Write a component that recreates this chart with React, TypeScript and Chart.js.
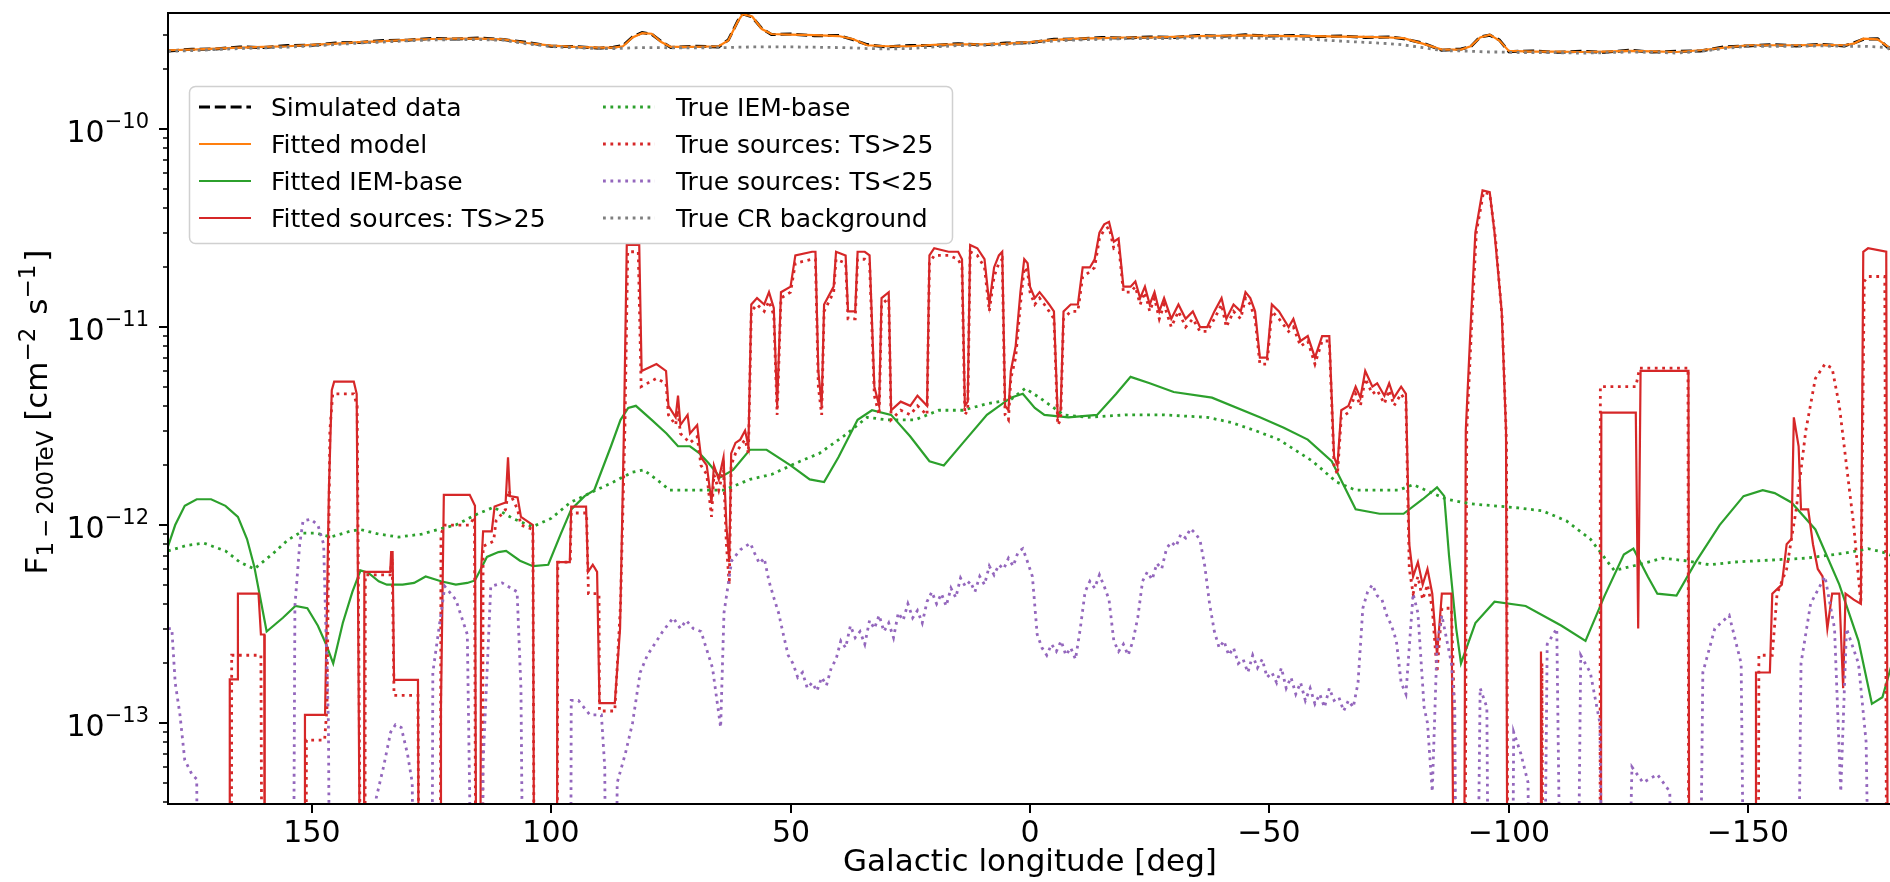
import { useEffect, useRef } from 'react';
import { Chart, registerables } from 'chart.js';

Chart.register(...registerables);

type Pt = [number, number];

// Stand-in flux for stretches where a component falls below the plotted range
const B = 1e-15;

const lonTicks = [150, 100, 50, 0, -50, -100, -150];
const fluxDecades = [-13, -12, -11, -10];

// Total counts along the plane, shared longitude grid, in units of 1e-10
const topUnit = 1e-10;
const topLon = [180, 175, 170, 165, 160, 155, 150, 145, 140, 135, 130, 125, 120, 115, 110, 105, 100, 95, 90, 87, 85, 83, 81, 79, 77, 75, 70, 65, 63, 61, 60, 58, 56, 54, 50, 45, 40, 37, 34, 30, 25, 20, 15, 10, 5, 0, -5, -10, -15, -20, -25, -30, -35, -40, -45, -50, -55, -60, -65, -70, -75, -78, -82, -86, -90, -92, -94, -96, -98, -100, -105, -110, -115, -120, -125, -130, -135, -140, -145, -150, -155, -160, -165, -170, -172, -174, -177, -179, -180];
const simulatedData = [2.48, 2.53, 2.54, 2.60, 2.58, 2.64, 2.65, 2.72, 2.74, 2.80, 2.81, 2.87, 2.85, 2.88, 2.83, 2.74, 2.62, 2.61, 2.56, 2.59, 2.64, 2.92, 3.07, 3.01, 2.77, 2.58, 2.62, 2.60, 2.82, 3.52, 3.82, 3.68, 3.22, 3.00, 3.02, 2.96, 2.97, 2.83, 2.67, 2.60, 2.64, 2.64, 2.70, 2.66, 2.72, 2.73, 2.84, 2.85, 2.90, 2.88, 2.92, 2.90, 2.97, 2.94, 2.99, 2.95, 2.97, 2.93, 2.95, 2.90, 2.92, 2.86, 2.72, 2.50, 2.54, 2.60, 2.92, 2.98, 2.82, 2.46, 2.48, 2.44, 2.47, 2.44, 2.50, 2.45, 2.47, 2.48, 2.60, 2.63, 2.67, 2.63, 2.68, 2.63, 2.72, 2.84, 2.86, 2.60, 2.52];
const fittedModel = [2.50, 2.52, 2.55, 2.58, 2.60, 2.62, 2.66, 2.70, 2.75, 2.78, 2.82, 2.85, 2.86, 2.86, 2.84, 2.72, 2.64, 2.60, 2.58, 2.58, 2.62, 2.90, 3.05, 3.03, 2.75, 2.60, 2.60, 2.62, 2.80, 3.50, 3.80, 3.70, 3.20, 3.02, 3.00, 2.98, 2.95, 2.85, 2.65, 2.62, 2.62, 2.66, 2.68, 2.68, 2.70, 2.75, 2.82, 2.86, 2.88, 2.90, 2.90, 2.92, 2.95, 2.96, 2.97, 2.96, 2.95, 2.95, 2.93, 2.92, 2.90, 2.88, 2.70, 2.52, 2.52, 2.62, 2.90, 3.00, 2.80, 2.48, 2.46, 2.46, 2.45, 2.46, 2.48, 2.47, 2.45, 2.50, 2.58, 2.65, 2.65, 2.65, 2.66, 2.65, 2.70, 2.86, 2.84, 2.62, 2.50];
const trueCR = [2.47, 2.49, 2.52, 2.55, 2.57, 2.59, 2.63, 2.67, 2.72, 2.75, 2.79, 2.82, 2.83, 2.83, 2.81, 2.69, 2.61, 2.57, 2.55, 2.55, 2.56, 2.57, 2.58, 2.58, 2.58, 2.57, 2.57, 2.58, 2.58, 2.59, 2.59, 2.60, 2.60, 2.60, 2.60, 2.59, 2.58, 2.57, 2.55, 2.54, 2.55, 2.60, 2.64, 2.65, 2.67, 2.72, 2.78, 2.82, 2.84, 2.86, 2.86, 2.87, 2.89, 2.89, 2.89, 2.87, 2.85, 2.83, 2.78, 2.74, 2.70, 2.66, 2.58, 2.49, 2.48, 2.47, 2.46, 2.45, 2.45, 2.44, 2.43, 2.43, 2.42, 2.43, 2.45, 2.44, 2.42, 2.47, 2.55, 2.62, 2.62, 2.62, 2.63, 2.62, 2.62, 2.62, 2.60, 2.58, 2.47];

// Interstellar emission, fitted and injected
const fittedIem: Pt[] = [
  [180, 7.8e-13], [178.5, 1.0e-12], [176.5, 1.25e-12], [174, 1.35e-12], [171, 1.35e-12], [168, 1.25e-12], [165.4, 1.1e-12],
  [163.5, 8.5e-13], [162, 6.2e-13], [160.5, 4.0e-13], [159.4, 2.9e-13], [156, 3.4e-13], [153.4, 3.9e-13], [150.9, 3.8e-13],
  [148.7, 3.1e-13], [147, 2.5e-13], [145.5, 2.0e-13], [143.5, 3.2e-13], [141.5, 4.6e-13], [139.8, 5.9e-13], [138.2, 5.75e-13],
  [136, 5.2e-13], [134.3, 5.0e-13], [131, 5.0e-13], [128.6, 5.1e-13], [126.2, 5.5e-13], [123, 5.2e-13], [119.9, 5.0e-13],
  [117.5, 5.1e-13], [115.9, 5.25e-13], [113.4, 6.9e-13], [111, 7.3e-13], [109.4, 7.4e-13], [106.5, 6.6e-13], [103.8, 6.2e-13],
  [100.6, 6.3e-13], [98, 9.0e-13], [95.8, 1.2e-12], [93, 1.4e-12], [91, 1.5e-12], [87.5, 2.5e-12], [85.5, 3.4e-12],
  [83.9, 3.9e-12], [82.3, 4.0e-12], [79, 3.4e-12], [75.9, 2.9e-12], [73.5, 2.5e-12], [71, 2.5e-12], [69, 2.3e-12],
  [67.1, 2.05e-12], [64.7, 1.74e-12], [62, 1.9e-12], [58.5, 2.4e-12], [55, 2.4e-12], [50, 2.0e-12], [46, 1.7e-12],
  [43, 1.65e-12], [40, 2.2e-12], [36, 3.4e-12], [33, 3.8e-12], [29, 3.6e-12], [25, 2.8e-12], [21, 2.1e-12], [18, 2.0e-12],
  [14, 2.6e-12], [9, 3.6e-12], [4, 4.4e-12], [1.5, 4.6e-12], [-1, 3.9e-12], [-3, 3.6e-12], [-8, 3.5e-12], [-14, 3.6e-12],
  [-18, 4.6e-12], [-21, 5.6e-12], [-25, 5.2e-12], [-30, 4.7e-12], [-38, 4.4e-12], [-48, 3.5e-12], [-53, 3.1e-12],
  [-58, 2.7e-12], [-63, 2.1e-12], [-68, 1.2e-12], [-73, 1.14e-12], [-78, 1.14e-12], [-82, 1.35e-12], [-85, 1.55e-12],
  [-86.5, 1.4e-12], [-87.5, 7e-13], [-89, 3e-13], [-90, 2.0e-13], [-93, 3.2e-13], [-97, 4.1e-13], [-103.5, 3.9e-13],
  [-111, 3.1e-13], [-116, 2.6e-13], [-120, 4.4e-13], [-124, 7.1e-13], [-126, 7.6e-13], [-129, 5.5e-13], [-131, 4.5e-13],
  [-135, 4.4e-13], [-139, 6.5e-13], [-144, 1.0e-12], [-149, 1.4e-12], [-153, 1.5e-12], [-155.5, 1.45e-12], [-159, 1.3e-12],
  [-164, 9.5e-13], [-169, 5.0e-13], [-173, 2.6e-13], [-175.8, 1.25e-13], [-178, 1.35e-13], [-180, 2.0e-13],
];
const trueIem: Pt[] = [
  [180, 7.4e-13], [176, 7.9e-13], [172.5, 8.1e-13], [168, 7.4e-13], [165, 6.5e-13], [162, 6.0e-13], [158, 7.2e-13],
  [155, 8.4e-13], [152.6, 9.1e-13], [149, 9.1e-13], [146, 8.7e-13], [142, 9.3e-13], [139.9, 9.5e-13], [136, 9.0e-13],
  [131.8, 8.7e-13], [127, 9.0e-13], [123, 9.6e-13], [119.9, 1.0e-12], [116, 1.12e-12], [112, 1.23e-12], [108, 1.08e-12],
  [103.9, 9.8e-13], [100, 1.08e-12], [96, 1.3e-12], [91.9, 1.45e-12], [87, 1.65e-12], [83, 1.85e-12], [80.7, 1.9e-12],
  [78, 1.7e-12], [75.2, 1.5e-12], [70, 1.5e-12], [63.9, 1.5e-12], [58.5, 1.7e-12], [54, 1.8e-12], [48, 2.1e-12],
  [44, 2.3e-12], [39, 2.8e-12], [34, 3.5e-12], [30, 3.4e-12], [24, 3.4e-12], [19, 3.8e-12], [14, 3.8e-12], [9, 4.1e-12],
  [4, 4.3e-12], [1, 4.9e-12], [-2, 4.4e-12], [-7, 3.6e-12], [-12, 3.5e-12], [-20, 3.6e-12], [-28, 3.6e-12], [-37, 3.5e-12],
  [-42, 3.3e-12], [-47, 3.0e-12], [-52, 2.7e-12], [-59, 2.1e-12], [-64, 1.65e-12], [-68, 1.5e-12], [-72, 1.5e-12],
  [-77, 1.5e-12], [-80, 1.6e-12], [-84, 1.45e-12], [-87, 1.35e-12], [-92, 1.28e-12], [-97, 1.25e-12], [-102, 1.22e-12],
  [-107, 1.18e-12], [-112, 1.05e-12], [-117, 8.5e-13], [-122, 5.9e-13], [-127, 6.3e-13], [-132, 6.8e-13], [-137, 6.6e-13],
  [-142, 6.3e-13], [-147, 6.5e-13], [-152, 6.6e-13], [-157, 6.7e-13], [-162, 6.8e-13], [-166, 7.0e-13], [-170, 7.2e-13],
  [-175, 7.6e-13], [-178, 7.3e-13], [-180, 7.0e-13],
];

// Point sources above the detection threshold, fitted and injected
const fittedSrc: Pt[] = [
  [180, B], [167.2, B], [167.1, 1.66e-13], [165.5, 1.66e-13], [165.4, 4.5e-13], [161.1, 4.5e-13], [160.6, 2.8e-13],
  [159.9, 2.8e-13], [159.8, B], [151.5, B], [151.4, 1.1e-13], [147.2, 1.1e-13], [146.4, 1.5e-12], [145.8, 4.8e-12],
  [145.3, 5.3e-12], [141.2, 5.3e-12], [140.6, 4.6e-12], [139.6, B], [139.1, B], [139.0, 5.8e-13], [133.6, 5.8e-13],
  [133.4, 7.3e-13], [133.1, 7.3e-13], [132.8, 1.65e-13], [127.8, 1.65e-13], [127.5, B], [123.1, B], [123.0, 1.2e-13],
  [122.4, 1.42e-12], [117, 1.42e-12], [115.9, 1.25e-12], [115.5, B], [114.9, B], [114.6, 6.0e-13], [114.2, 9.3e-13],
  [112.4, 9.3e-13], [111.8, 1.24e-12], [109.5, 1.3e-12], [109.0, 2.2e-12], [108.6, 1.4e-12], [107, 1.38e-12],
  [106.3, 1.1e-12], [103.8, 1.0e-12], [103.4, B], [98.8, B], [98.7, 6.5e-13], [96.1, 6.5e-13], [95.8, 1.24e-12],
  [92.7, 1.24e-12], [92.3, 5.8e-13], [91.3, 6.3e-13], [90.4, 5.8e-13], [89.9, 1.26e-13], [86.7, 1.26e-13], [85.6, 3.0e-13],
  [84.8, 3.0e-12], [84.2, 2.6e-11], [81.6, 2.6e-11], [81.1, 6.0e-12], [78, 6.5e-12], [76, 6.0e-12], [75.5, 4.0e-12],
  [74, 3.5e-12], [73.5, 4.5e-12], [73, 3.2e-12], [71.5, 3.6e-12], [71, 2.9e-12], [69.5, 3.2e-12], [68.7, 2.2e-12],
  [67.5, 2.0e-12], [66.5, 1.3e-12], [66, 2.0e-12], [65, 1.7e-12], [64, 2.2e-12], [63.4, 1.0e-12], [62.8, 6.5e-13],
  [62.4, 2.3e-12], [61.5, 2.6e-12], [60.5, 2.7e-12], [59.5, 3.0e-12], [58.8, 2.5e-12], [58.2, 1.3e-11], [57, 1.4e-11],
  [55.5, 1.3e-11], [54.5, 1.5e-11], [53.5, 1.25e-11], [52.8, 4.0e-12], [52, 1.5e-11], [50, 1.6e-11], [49, 2.3e-11],
  [45.5, 2.4e-11], [44.8, 2.4e-11], [44.2, 6.0e-12], [43.5, 4.0e-12], [43, 1.3e-11], [41, 1.6e-11], [40.5, 2.4e-11],
  [38.5, 2.3e-11], [38, 1.2e-11], [36.5, 1.2e-11], [36, 2.4e-11], [34.5, 2.4e-11], [33.5, 2.3e-11], [32.5, 5.0e-12],
  [31.5, 4.0e-12], [31, 1.4e-11], [29.5, 1.5e-11], [29, 3.8e-12], [27, 4.2e-12], [25, 4.0e-12], [23.5, 4.5e-12],
  [21.5, 4.0e-12], [21, 2.3e-11], [20, 2.5e-11], [17, 2.4e-11], [15, 2.4e-11], [14.2, 2.2e-11], [13.6, 4.0e-12],
  [13, 4.2e-12], [12.5, 2.6e-11], [11, 2.5e-11], [9.5, 2.2e-11], [8.5, 1.3e-11], [7.5, 2.0e-11], [6.5, 2.3e-11],
  [5.8, 2.4e-11], [5.2, 4.0e-12], [4.5, 3.8e-12], [4, 6.0e-12], [3, 8.0e-12], [2, 1.5e-11], [1.2, 2.2e-11], [0.5, 2.1e-11],
  [0, 1.6e-11], [-1, 1.4e-11], [-2, 1.5e-11], [-3, 1.4e-11], [-4, 1.3e-11], [-5, 1.2e-11], [-5.8, 3.5e-12], [-6.4, 3.8e-12],
  [-7, 1.2e-11], [-8.5, 1.3e-11], [-10, 1.3e-11], [-11, 2.0e-11], [-12.5, 2.0e-11], [-13.5, 2.2e-11], [-14.5, 3.0e-11],
  [-15.5, 3.3e-11], [-16.5, 3.4e-11], [-17.5, 2.7e-11], [-18.5, 2.8e-11], [-19.5, 1.6e-11], [-21, 1.6e-11], [-22, 1.7e-11],
  [-23, 1.4e-11], [-24, 1.6e-11], [-25, 1.3e-11], [-26, 1.5e-11], [-27, 1.2e-11], [-28, 1.4e-11], [-29.5, 1.1e-11],
  [-31, 1.3e-11], [-32.5, 1.1e-11], [-34, 1.2e-11], [-35.5, 1.0e-11], [-37, 1.0e-11], [-38.5, 1.2e-11], [-40, 1.4e-11],
  [-41, 1.1e-11], [-42.5, 1.3e-11], [-44, 1.2e-11], [-45, 1.5e-11], [-46, 1.4e-11], [-47, 1.2e-11], [-48, 7.0e-12],
  [-49.5, 7.0e-12], [-50.5, 1.3e-11], [-52, 1.2e-11], [-54, 1.0e-11], [-55, 1.1e-11], [-56.5, 8.5e-12], [-58, 9.0e-12],
  [-59.5, 7.0e-12], [-61, 9.0e-12], [-62.5, 9.0e-12], [-63.5, 2.2e-12], [-64.2, 2.0e-12], [-65, 3.8e-12], [-66.5, 4.0e-12],
  [-68, 5.0e-12], [-69, 4.4e-12], [-70, 6.0e-12], [-71.5, 5.0e-12], [-72.5, 5.2e-12], [-74, 4.5e-12], [-75, 5.2e-12],
  [-76, 4.4e-12], [-77.5, 5.0e-12], [-78.5, 4.6e-12], [-79.2, 8.0e-13], [-80, 5.5e-13], [-81, 6.5e-13], [-82, 5.0e-13],
  [-83, 6.0e-13], [-84, 4.5e-13], [-85, 2.2e-13], [-86, 4.5e-13], [-88, 4.5e-13], [-88.8, B], [-90.5, B], [-91, 3.0e-12],
  [-92, 1.0e-11], [-93, 3.0e-11], [-94.5, 4.9e-11], [-96, 4.8e-11], [-97, 3.0e-11], [-98.5, 1.2e-11], [-99.4, 3.0e-12],
  [-99.8, B], [-106.5, B], [-106.7, 2.3e-13], [-107.2, B], [-119.2, B], [-119.3, 3.7e-12], [-126.5, 3.7e-12],
  [-127, 3.0e-13], [-127.5, 6.0e-12], [-137.5, 6.0e-12], [-137.7, B], [-151.5, B], [-151.6, 1.8e-13], [-154.5, 1.8e-13],
  [-155, 4.5e-13], [-157, 5.0e-13], [-158, 8.0e-13], [-159, 8.5e-13], [-159.5, 3.5e-12], [-160.5, 2.5e-12], [-161, 1.2e-12],
  [-162.5, 1.2e-12], [-163.5, 8.0e-13], [-164.5, 6.0e-13], [-165.5, 5.5e-13], [-166.5, 3.0e-13], [-167.5, 4.5e-13],
  [-169, 4.5e-13], [-169.8, 1.5e-13], [-170.3, 4.5e-13], [-172, 4.2e-13], [-173.5, 4.0e-13], [-174, 2.4e-11],
  [-175, 2.5e-11], [-178.8, 2.4e-11], [-179.2, B], [-180, B],
];
const trueSrc: Pt[] = [
  [180, B], [166.8, B], [166.7, 2.2e-13], [160.6, 2.2e-13], [160.2, B], [151.2, B], [151.1, 8.2e-14], [147.3, 8.2e-14],
  [146.8, 1.2e-13], [146.2, 3.0e-12], [145.6, 4.6e-12], [141.2, 4.6e-12], [140.5, 4.0e-12], [139.5, B], [138.9, B],
  [138.8, 5.6e-13], [133.6, 5.6e-13], [133.2, 6.8e-13], [132.8, 1.38e-13], [127.8, 1.38e-13], [127.4, B], [123.2, B],
  [123.0, 9.0e-13], [122.2, 1.0e-12], [117, 1.0e-12], [116, 1.1e-12], [115.6, B], [114.4, B], [114.2, 7.8e-13],
  [112, 8.3e-13], [111.5, 1.05e-12], [109.5, 1.2e-12], [108.9, 1.5e-12], [107, 1.2e-12], [106.3, 1.0e-12], [103.8, 9.5e-13],
  [103.4, B], [98.8, B], [98.6, 6.5e-13], [96, 6.5e-13], [95.8, 1.15e-12], [92.6, 1.15e-12], [92.2, 4.5e-13], [90, 4.5e-13],
  [89.9, 1.15e-13], [86.7, 1.15e-13], [85.5, 4.0e-13], [84.6, 3.0e-12], [84.0, 2.4e-11], [81.8, 2.4e-11], [81.2, 5.0e-12],
  [78, 5.5e-12], [76, 5.2e-12], [75.5, 3.6e-12], [74, 3.2e-12], [73.5, 3.8e-12], [73, 2.9e-12], [71, 2.6e-12], [69.5, 2.8e-12],
  [68.7, 2.0e-12], [67.5, 1.8e-12], [66.5, 1.1e-12], [66, 1.8e-12], [65, 1.5e-12], [64, 1.9e-12], [63.4, 8.0e-13],
  [62.8, 5.0e-13], [62.4, 2.0e-12], [61.5, 2.3e-12], [60.5, 2.5e-12], [59.5, 2.7e-12], [58.8, 2.3e-12], [58.2, 1.2e-11],
  [57, 1.3e-11], [55.5, 1.2e-11], [54.5, 1.35e-11], [53.5, 1.15e-11], [52.8, 3.6e-12], [52, 1.4e-11], [50, 1.5e-11],
  [49, 2.1e-11], [45.5, 2.2e-11], [44.8, 2.2e-11], [44.2, 5.0e-12], [43.5, 3.6e-12], [43, 1.2e-11], [41, 1.5e-11],
  [40.5, 2.2e-11], [38.5, 2.1e-11], [38, 1.1e-11], [36.5, 1.1e-11], [36, 2.2e-11], [34.5, 2.2e-11], [33.5, 2.1e-11],
  [32.5, 4.5e-12], [31.5, 3.6e-12], [31, 1.3e-11], [29.5, 1.4e-11], [29, 3.4e-12], [27, 3.8e-12], [25, 3.6e-12],
  [23.5, 4.0e-12], [21.5, 3.6e-12], [21, 2.1e-11], [20, 2.3e-11], [17, 2.3e-11], [15, 2.2e-11], [14.2, 2.0e-11],
  [13.6, 3.6e-12], [13, 3.8e-12], [12.5, 2.4e-11], [11, 2.3e-11], [9.5, 2.0e-11], [8.5, 1.2e-11], [7.5, 1.8e-11],
  [6.5, 2.1e-11], [5.8, 2.2e-11], [5.2, 3.6e-12], [4.5, 3.4e-12], [4, 5.5e-12], [3, 7.0e-12], [2, 1.3e-11], [1.2, 2.0e-11],
  [0.5, 1.9e-11], [0, 1.5e-11], [-1, 1.3e-11], [-2, 1.4e-11], [-3, 1.3e-11], [-4, 1.2e-11], [-5, 1.1e-11], [-5.8, 3.2e-12],
  [-6.4, 3.4e-12], [-7, 1.1e-11], [-8.5, 1.2e-11], [-10, 1.2e-11], [-11, 1.8e-11], [-12.5, 1.9e-11], [-13.5, 2.0e-11],
  [-14.5, 2.8e-11], [-15.5, 3.1e-11], [-16.5, 3.2e-11], [-17.5, 2.5e-11], [-18.5, 2.6e-11], [-19.5, 1.5e-11], [-21, 1.5e-11],
  [-22, 1.6e-11], [-23, 1.3e-11], [-24, 1.5e-11], [-25, 1.2e-11], [-26, 1.4e-11], [-27, 1.1e-11], [-28, 1.3e-11],
  [-29.5, 1.0e-11], [-31, 1.2e-11], [-32.5, 1.0e-11], [-34, 1.1e-11], [-35.5, 9.5e-12], [-37, 9.5e-12], [-38.5, 1.1e-11],
  [-40, 1.3e-11], [-41, 1.0e-11], [-42.5, 1.2e-11], [-44, 1.1e-11], [-45, 1.4e-11], [-46, 1.3e-11], [-47, 1.1e-11],
  [-48, 6.5e-12], [-49.5, 6.5e-12], [-50.5, 1.2e-11], [-52, 1.1e-11], [-54, 9.5e-12], [-55, 1.0e-11], [-56.5, 8.0e-12],
  [-58, 8.5e-12], [-59.5, 6.5e-12], [-61, 8.5e-12], [-62.5, 8.5e-12], [-63.5, 2.0e-12], [-64.2, 1.8e-12], [-65, 3.5e-12],
  [-66.5, 3.7e-12], [-68, 4.6e-12], [-69, 4.0e-12], [-70, 5.5e-12], [-71.5, 4.6e-12], [-72.5, 4.8e-12], [-74, 4.1e-12],
  [-75, 4.8e-12], [-76, 4.0e-12], [-77.5, 4.6e-12], [-78.5, 4.2e-12], [-79.2, 6.0e-13], [-80, 4.5e-13], [-81, 5.5e-13],
  [-82, 4.2e-13], [-83, 5.0e-13], [-84, 3.8e-13], [-85, 1.8e-13], [-86, 3.8e-13], [-88, 3.8e-13], [-88.6, 1.2e-13],
  [-88.9, B], [-90.7, B], [-91.2, 3.0e-12], [-92.2, 1.0e-11], [-93.2, 3.0e-11], [-94.7, 4.8e-11], [-96, 4.7e-11],
  [-97.2, 2.8e-11], [-98.6, 1.1e-11], [-99.5, 2.6e-12], [-99.9, B], [-106.5, B], [-106.9, 2.0e-13], [-107.3, B], [-119, B],
  [-119.1, 5.0e-12], [-126.5, 5.0e-12], [-127.3, 6.2e-12], [-137.4, 6.2e-12], [-137.6, B], [-152, B], [-152.2, 2.2e-13],
  [-155, 2.2e-13], [-156, 4.5e-13], [-158, 6.0e-13], [-160, 1.2e-12], [-162, 3.0e-12], [-164, 5.5e-12], [-166, 6.5e-12],
  [-167.5, 6.2e-12], [-169, 4.0e-12], [-170.5, 2.0e-12], [-172, 1.0e-12], [-173.5, 4.0e-13], [-174.2, 1.7e-11],
  [-175, 1.8e-11], [-178.5, 1.8e-11], [-179, B], [-180, B],
];

// Point sources below the detection threshold (injected only)
const trueFaint: Pt[] = [
  [180, 3.0e-13], [179.2, 3.0e-13], [178.5, 1.6e-13], [177.5, 1.1e-13], [176.5, 6.5e-14], [175, 5.5e-14], [174, 5.2e-14],
  [173.6, B], [154, B], [153.5, 3.9e-13], [152.5, 8.0e-13], [151.8, 1.05e-12], [150.2, 1.07e-12], [148.7, 1.0e-12],
  [147.5, 8.0e-13], [146.5, 1.0e-13], [146, B], [137, B], [136.5, 4.2e-14], [135, 6.0e-14], [133.5, 9.0e-14],
  [132.5, 9.8e-14], [131.3, 9.5e-14], [130, 7.0e-14], [129, 5.0e-14], [128.3, B], [125, B], [124.7, 1.8e-13],
  [122.2, 4.9e-13], [119.9, 4.2e-13], [117.5, 2.8e-13], [116, B], [114.5, B], [114.2, 6.3e-14], [112.6, 4.9e-13],
  [110.2, 5.1e-13], [107.1, 4.6e-13], [106.3, 1.5e-13], [105.5, B], [96, B], [95.8, 1.3e-13], [94.3, 1.3e-13],
  [91.9, 1.1e-13], [89.5, 1.1e-13], [88.8, 6.0e-14], [88.3, B], [86.8, B], [86.2, 5.0e-14], [84.5, 7.0e-14],
  [83, 1.0e-13], [81.4, 1.8e-13], [79.9, 2.2e-13], [76.7, 2.9e-13], [74.5, 3.4e-13], [73, 3.0e-13], [71.8, 3.3e-13],
  [70.3, 3.0e-13], [68.7, 2.9e-13], [66.3, 1.9e-13], [64.6, 9.5e-14], [63.9, 3.6e-13], [62.3, 6.6e-13], [60.5, 7.5e-13],
  [58.4, 8.1e-13], [57.5, 7.2e-13], [56.5, 6.4e-13], [55.5, 6.8e-13], [54.5, 5.2e-13], [53.5, 4.3e-13], [52.5, 3.6e-13],
  [51.5, 2.8e-13], [50.5, 2.2e-13], [49.5, 2.0e-13], [48.5, 1.7e-13], [47.5, 1.8e-13], [46.5, 1.5e-13], [45.5, 1.6e-13],
  [44.5, 1.45e-13], [43.5, 1.7e-13], [42.5, 1.55e-13], [41.5, 1.9e-13], [40.5, 2.1e-13], [39.5, 2.6e-13], [38.5, 2.4e-13],
  [37.5, 3.1e-13], [36.5, 2.7e-13], [35.5, 2.9e-13], [34.5, 2.5e-13], [33.5, 3.3e-13], [32.5, 3.0e-13], [31.5, 3.5e-13],
  [30.5, 2.9e-13], [29.5, 3.2e-13], [28.5, 2.7e-13], [27.5, 3.6e-13], [26.5, 3.3e-13], [25.5, 4.0e-13], [24.5, 3.4e-13],
  [23.5, 3.7e-13], [22.5, 3.2e-13], [21.5, 4.1e-13], [20.5, 4.6e-13], [19.5, 4.0e-13], [18.5, 4.5e-13], [17.5, 3.9e-13],
  [16.5, 4.8e-13], [15.5, 4.3e-13], [14.5, 5.4e-13], [13.5, 4.9e-13], [12.5, 5.2e-13], [11.5, 4.6e-13], [10.5, 5.5e-13],
  [9.5, 5.0e-13], [8.5, 6.2e-13], [7.5, 5.6e-13], [6.5, 6.3e-13], [5.5, 6.0e-13], [4.5, 6.8e-13], [3.5, 6.2e-13],
  [2.5, 7.3e-13], [1.5, 7.6e-13], [0.5, 6.5e-13], [-0.5, 5.5e-13], [-1.5, 2.8e-13], [-2.5, 2.4e-13], [-3.5, 2.2e-13],
  [-4.5, 2.5e-13], [-5.5, 2.3e-13], [-6.5, 2.6e-13], [-7.5, 2.2e-13], [-8.5, 2.4e-13], [-9.5, 2.1e-13], [-10.5, 3.0e-13],
  [-11.5, 4.6e-13], [-12.5, 5.2e-13], [-13.5, 4.8e-13], [-14.5, 5.6e-13], [-15.5, 4.9e-13], [-16.5, 4.2e-13],
  [-17.5, 2.6e-13], [-18.5, 2.3e-13], [-19.5, 2.5e-13], [-20.5, 2.2e-13], [-21.5, 2.6e-13], [-22.5, 3.4e-13],
  [-23.5, 5.2e-13], [-24.5, 5.8e-13], [-25.5, 5.3e-13], [-26.5, 6.4e-13], [-27.5, 6.0e-13], [-28.5, 7.6e-13],
  [-29.5, 8.2e-13], [-30.5, 7.8e-13], [-31.5, 9.0e-13], [-32.5, 8.6e-13], [-33.5, 9.6e-13], [-34.5, 9.1e-13],
  [-35.5, 8.4e-13], [-36.5, 6.2e-13], [-37.5, 4.0e-13], [-38.5, 2.9e-13], [-39.5, 2.4e-13], [-40.5, 2.6e-13],
  [-41.5, 2.2e-13], [-42.5, 2.4e-13], [-43.5, 2.0e-13], [-44.5, 2.1e-13], [-45.5, 1.8e-13], [-46.5, 2.2e-13],
  [-47.5, 1.9e-13], [-48.5, 2.1e-13], [-49.5, 1.7e-13], [-50.5, 1.8e-13], [-51.5, 1.6e-13], [-52.5, 1.9e-13],
  [-53.5, 1.5e-13], [-54.5, 1.7e-13], [-55.5, 1.4e-13], [-56.5, 1.6e-13], [-57.5, 1.3e-13], [-58.5, 1.5e-13],
  [-59.5, 1.25e-13], [-60.5, 1.4e-13], [-61.5, 1.2e-13], [-62.5, 1.5e-13], [-63.5, 1.3e-13], [-64.5, 1.35e-13],
  [-65.5, 1.15e-13], [-66.5, 1.3e-13], [-67.5, 1.2e-13], [-68.5, 1.6e-13], [-69.5, 3.8e-13], [-70.5, 4.6e-13],
  [-71.5, 5.0e-13], [-72.5, 4.4e-13], [-73.5, 4.2e-13], [-74.5, 3.5e-13], [-75.5, 3.1e-13], [-76.5, 2.6e-13],
  [-77.5, 1.6e-13], [-78.5, 1.4e-13], [-80, 4.5e-13], [-81, 3.6e-13], [-82.3, 1.2e-13], [-83, 1.0e-13], [-84, 4.5e-14],
  [-85, 2.5e-13], [-86, 3.5e-13], [-88, 2.0e-13], [-88.7, 1.2e-13], [-89.3, B], [-93, B], [-94, 1.5e-13],
  [-95.4, 1.2e-13], [-96, B], [-100.5, B], [-101, 9.0e-14], [-102.5, 7.0e-14], [-104, 5.0e-14], [-104.6, B], [-107, B],
  [-108, 2.5e-13], [-110, 3.0e-13], [-111.3, B], [-114, B], [-115, 2.2e-13], [-117, 1.8e-13], [-119, 1.0e-13], [-120, B],
  [-124, B], [-125.7, 6.0e-14], [-128, 5.0e-14], [-131, 5.5e-14], [-133.6, 4.5e-14], [-134.5, B], [-139.5, B],
  [-140.5, 1.8e-13], [-143, 3.0e-13], [-146, 3.5e-13], [-148.5, 2.0e-13], [-149.5, B], [-160, B], [-161, 2.0e-13],
  [-163, 4.0e-13], [-166, 5.5e-13], [-168, 3.0e-13], [-169.3, 4.5e-14], [-170.5, 3.0e-13], [-173, 2.0e-13],
  [-174.6, 8.0e-14], [-175.8, B], [-180, B],
];

const toXY = (pts: Pt[]) => pts.map(([x, y]) => ({ x, y }));
const topXY = (vals: number[]) => topLon.map((x, i) => ({ x, y: vals[i] * topUnit }));

const W = 1900;
const H = 882;
const AREA = { left: 168, top: 13, right: 1892, bottom: 804 };
const FONT = '"DejaVu Sans", sans-serif';

const MINUS = '\u2212';
const fmtLon = (v: number) => (v < 0 ? MINUS + Math.abs(v) : String(v));

type Run = { t: string; size: number; dy: number; gap?: number };

function drawRich(ctx: CanvasRenderingContext2D, parts: Run[], x0: number, y0: number) {
  let x = x0;
  for (const p of parts) {
    ctx.font = `${p.size}px ${FONT}`;
    ctx.fillText(p.t, x, y0 + p.dy);
    x += ctx.measureText(p.t).width + (p.gap || 0);
  }
}
function richWidth(ctx: CanvasRenderingContext2D, parts: Run[]) {
  let w = 0;
  for (const p of parts) {
    ctx.font = `${p.size}px ${FONT}`;
    w += ctx.measureText(p.t).width + (p.gap || 0);
  }
  return w;
}

const decorPlugin = {
  id: 'decor',
  afterDatasetsDraw(chart: any) {
    const { ctx, chartArea: a, scales } = chart;
    const xs = scales.x;
    const ys = scales.y;
    ctx.save();
    ctx.fillStyle = '#000';
    ctx.strokeStyle = '#000';

    // legend
    const lg = { left: 189.5, top: 86.5, w: 763, h: 157 };
    ctx.beginPath();
    ctx.roundRect(lg.left, lg.top, lg.w, lg.h, 6);
    ctx.fillStyle = 'rgba(255,255,255,0.8)';
    ctx.fill();
    ctx.lineWidth = 1.5;
    ctx.strokeStyle = '#d0d0d0';
    ctx.stroke();
    const rows = [107, 144, 181, 218];
    const cols = [{ line: 199, text: 271 }, { line: 603, text: 676 }];
    chart.data.datasets.forEach((ds: any, i: number) => {
      const c = cols[Math.floor(i / 4)];
      const ry = rows[i % 4];
      ctx.save();
      ctx.beginPath();
      ctx.setLineDash(ds.borderDash || []);
      ctx.lineWidth = ds.borderWidth;
      ctx.strokeStyle = ds.borderColor;
      ctx.moveTo(c.line, ry);
      ctx.lineTo(c.line + 52, ry);
      ctx.stroke();
      ctx.restore();
      ctx.fillStyle = '#000';
      ctx.font = `25px ${FONT}`;
      ctx.textAlign = 'left';
      ctx.textBaseline = 'alphabetic';
      ctx.fillText(ds.label, c.text, ry + 9);
    });

    // spines
    ctx.setLineDash([]);
    ctx.strokeStyle = '#000';
    ctx.lineWidth = 2;
    ctx.strokeRect(a.left, a.top, a.right - a.left, a.bottom - a.top);

    // x ticks and labels
    ctx.lineWidth = 2;
    ctx.font = `30px ${FONT}`;
    ctx.textAlign = 'center';
    ctx.textBaseline = 'alphabetic';
    for (const v of lonTicks) {
      const px = Math.round(xs.getPixelForValue(v));
      ctx.beginPath();
      ctx.moveTo(px, a.bottom);
      ctx.lineTo(px, a.bottom + 9);
      ctx.stroke();
      ctx.fillText(fmtLon(v), px, 842);
    }

    // y ticks (major and minor) and labels
    for (let d = -14; d <= -10; d++) {
      for (let m = 1; m <= 9; m++) {
        const val = m * Math.pow(10, d);
        if (val < ys.min || val > ys.max) continue;
        const py = Math.round(ys.getPixelForValue(val));
        const len = m === 1 ? 9 : 5;
        ctx.lineWidth = m === 1 ? 2 : 1.5;
        ctx.beginPath();
        ctx.moveTo(a.left - len, py);
        ctx.lineTo(a.left, py);
        ctx.stroke();
      }
    }
    ctx.textAlign = 'left';
    for (const d of fluxDecades) {
      const py = ys.getPixelForValue(Math.pow(10, d));
      const parts: Run[] = [
        { t: '10', size: 30, dy: 13 },
        { t: MINUS + Math.abs(d), size: 21, dy: -1 },
      ];
      const w = richWidth(ctx, parts);
      drawRich(ctx, parts, 149 - w, py);
    }

    // axis titles
    ctx.font = `31px ${FONT}`;
    ctx.textAlign = 'center';
    ctx.fillText('Galactic longitude [deg]', (a.left + a.right) / 2, 871);

    const yParts: Run[] = [
      { t: 'F', size: 31, dy: 0 },
      { t: '1', size: 23, dy: 6, gap: 4 },
      { t: MINUS, size: 23, dy: 6, gap: 4 },
      { t: '200TeV', size: 23, dy: 6 },
      { t: ' [cm', size: 31, dy: 0 },
      { t: MINUS + '2', size: 23, dy: -12, gap: 3 },
      { t: ' s', size: 31, dy: 0 },
      { t: MINUS + '1', size: 23, dy: -12, gap: 3 },
      { t: ']', size: 31, dy: 0 },
    ];
    ctx.textAlign = 'left';
    ctx.translate(36, 412);
    ctx.rotate(-Math.PI / 2);
    const yw = richWidth(ctx, yParts);
    drawRich(ctx, yParts, -yw / 2, 11);
    ctx.restore();
  },
};

export default function App() {
  const ref = useRef<HTMLCanvasElement | null>(null);

  useEffect(() => {
    const canvas = ref.current;
    if (!canvas) return;
    const lw = 2.2;
    const dw = 2.8;
    const dotted = [dw, dw * 1.65];
    const mk = (label: string, data: any[], color: string, width: number, dash: number[], order: number) => ({
      label,
      data,
      borderColor: color,
      backgroundColor: color,
      borderWidth: width,
      borderDash: dash,
      borderCapStyle: 'butt' as const,
      pointRadius: 0,
      fill: false,
      tension: 0,
      order,
    });
    const chart = new Chart(canvas, {
      type: 'line',
      data: {
        datasets: [
          mk('Simulated data', topXY(simulatedData), '#000000', 3, [11, 4.8], 8),
          mk('Fitted model', topXY(fittedModel), '#ff7f0e', 2.2, [], 7),
          mk('Fitted IEM-base', toXY(fittedIem), '#2ca02c', lw, [], 6),
          mk('Fitted sources: TS>25', toXY(fittedSrc), '#d62728', lw, [], 5),
          mk('True IEM-base', toXY(trueIem), '#2ca02c', dw, dotted, 4),
          mk('True sources: TS>25', toXY(trueSrc), '#d62728', dw, dotted, 3),
          mk('True sources: TS<25', toXY(trueFaint), '#9467bd', dw, dotted, 2),
          mk('True CR background', topXY(trueCR), '#7f7f7f', dw, dotted, 1),
        ],
      },
      options: {
        responsive: false,
        animation: false,
        devicePixelRatio: 1,
        events: [],
        layout: { padding: { left: 0, right: W - AREA.right, top: AREA.top, bottom: 0 } },
        plugins: { legend: { display: false }, tooltip: { enabled: false }, title: { display: false } },
        scales: {
          x: {
            type: 'linear',
            min: -180,
            max: 180,
            reverse: true,
            bounds: 'data',
            grid: { display: false },
            border: { display: false },
            ticks: { display: false },
            afterFit: (s: any) => {
              s.height = H - AREA.bottom;
            },
          },
          y: {
            type: 'logarithmic',
            min: 3.9e-14,
            max: 3.856e-10,
            bounds: 'data',
            grid: { display: false },
            border: { display: false },
            ticks: { display: false },
            afterFit: (s: any) => {
              s.width = AREA.left;
            },
          },
        },
      },
      plugins: [decorPlugin],
    });
    return () => chart.destroy();
  }, []);

  return (
    <div style={{ position: 'fixed', left: 0, top: 0, width: 1890, height: H, overflow: 'hidden', background: '#fff' }}>
      <canvas ref={ref} width={W} height={H} style={{ width: W, height: H, display: 'block' }} />
    </div>
  );
}
